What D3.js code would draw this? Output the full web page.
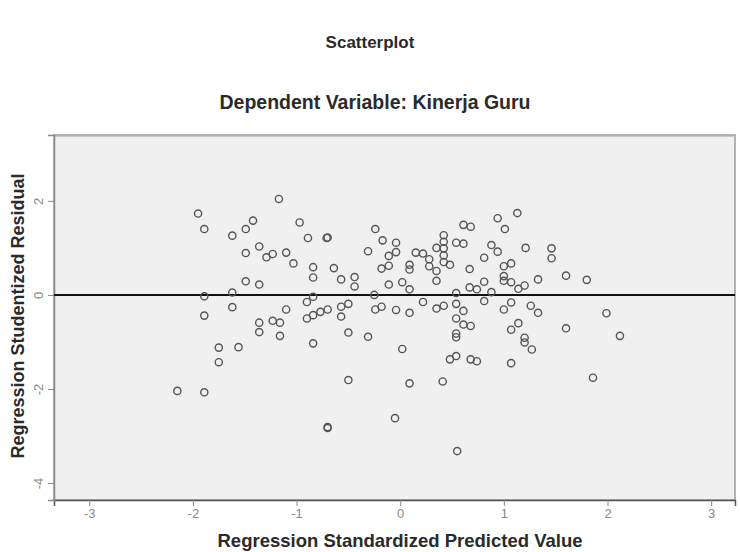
<!DOCTYPE html>
<html>
<head>
<meta charset="utf-8">
<script src="https://cdn.jsdelivr.net/npm/d3@7"></script>
<style>
  body { margin: 0; background: #fff; }
  text { font-family: "Liberation Sans", Arial, sans-serif; }
</style>
</head>
<body>
<div id="chart"></div>
<script>

// data
const predicted = [
  -1.95,-1.89,-1.62,-1.49,-1.42,-1.17,-0.97,-0.89,-0.70,-0.71,
  -1.36,-1.49,-1.29,-1.23,-1.10,-1.03,-0.84,-0.84,-0.64,-1.49,
  -1.36,-1.89,-1.62,-0.57,-0.44,-0.44,-1.62,-1.89,-1.10,-1.36,
  -1.36,-1.23,-1.16,-1.16,-1.75,-1.56,-1.75,-2.15,-1.89,-0.84,
  -0.90,-0.90,-0.84,-0.77,-0.70,-0.84,-0.57,-0.50,-0.57,-0.50,
  -0.31,-0.50,-0.70,-0.70,-0.24,-0.17,-0.31,-0.04,-0.04,-0.11,
  -0.11,-0.18,-0.11,0.02,0.09,0.09,0.09,0.15,0.22,0.28,
  0.28,0.35,0.42,0.42,0.42,0.42,0.42,0.35,0.35,0.48,
  0.54,0.61,0.61,0.68,0.67,0.67,0.81,0.88,0.94,1.01,
  0.94,1.00,1.07,1.00,1.00,1.07,1.13,1.21,1.20,1.14,
  0.81,0.74,0.88,0.54,-0.25,1.46,1.46,1.33,1.60,1.80,
  -0.24,-0.18,-0.04,0.09,0.22,0.35,0.42,0.54,0.54,0.61,
  0.54,0.54,0.61,0.68,0.48,0.54,0.68,0.74,0.81,1.00,
  1.07,1.07,1.14,1.07,1.20,1.20,1.27,1.26,1.33,1.60,
  1.99,2.12,1.86,0.02,0.09,0.41,-0.05,0.55
];
const residual = [
  1.73,1.40,1.26,1.40,1.58,2.04,1.54,1.21,1.22,1.21,
  1.03,0.89,0.80,0.87,0.90,0.67,0.59,0.37,0.57,0.29,
  0.22,-0.03,0.05,0.33,0.38,0.18,-0.26,-0.44,-0.31,-0.59,
  -0.79,-0.55,-0.59,-0.87,-1.12,-1.11,-1.43,-2.04,-2.07,-0.04,
  -0.15,-0.50,-0.43,-0.36,-0.31,-1.03,-0.25,-0.19,-0.46,-0.80,
  -0.89,-1.81,-2.81,-2.83,1.40,1.16,0.93,1.11,0.91,0.83,
  0.62,0.56,0.22,0.27,0.64,0.54,0.12,0.90,0.88,0.76,
  0.61,1.00,1.27,1.13,0.99,0.84,0.70,0.51,0.30,0.64,
  1.11,1.09,1.49,1.45,0.55,0.16,0.79,1.06,1.63,1.40,
  0.92,0.61,0.67,0.40,0.30,0.27,1.74,1.00,0.20,0.13,
  0.28,0.12,0.06,0.04,0.00,0.99,0.78,0.33,0.41,0.32,
  -0.31,-0.25,-0.32,-0.38,-0.15,-0.29,-0.23,-0.19,-0.50,-0.34,
  -0.82,-0.90,-0.63,-0.66,-1.37,-1.30,-1.37,-1.41,-0.13,-0.31,
  -0.16,-0.74,-0.60,-1.45,-0.91,-1.01,-1.16,-0.23,-0.38,-0.71,
  -0.39,-0.87,-1.76,-1.15,-1.88,-1.84,-2.62,-3.32
];
const xTicks = [-3,-2,-1,0,1,2,3];
const yTicks = [2,0,-2,-4];
const xDomain = [-3.34, 3.23];
const yDomain = [-4.36, 3.40];
const refLine = 0;

const data = predicted.map((p, i) => ({pred: p, resid: residual[i]}));

let margin = {top:135, right:5, bottom:52, left:54};
let width = 740 - margin.left - margin.right;
let height = 552 - margin.top - margin.bottom;

const svg = d3.select('#chart')
    .append('svg')
    .attr('width', 740)
    .attr('height', 552);

// titles
svg.append('text')
    .attr('x', 370).attr('y', 48)
    .attr('text-anchor', 'middle')
    .attr('font-size', '17px').attr('font-weight', 'bold')
    .attr('fill', '#2a2a2a')
    .text('Scatterplot');

svg.append('text')
    .attr('x', 375).attr('y', 109)
    .attr('text-anchor', 'middle')
    .attr('font-size', '19.5px').attr('font-weight', 'bold')
    .attr('fill', '#2a2a2a')
    .text('Dependent Variable: Kinerja Guru');

const g = svg.append('g')
    .attr('transform', `translate(${margin.left},${margin.top})`);

var x = d3.scaleLinear().domain(xDomain).range([0, width]);
var y = d3.scaleLinear().domain(yDomain).range([height, 0]);

// plot background + frame
g.append('rect')
    .attr('width', width).attr('height', height)
    .attr('fill', '#f0f0f0')
    .attr('stroke', '#9a9a9a').attr('stroke-width', 1.5);

g.append('line')
    .attr('x1', 0).attr('x2', width)
    .attr('y1', 1.5).attr('y2', 1.5)
    .attr('stroke', '#c8c8c8');

// axes
const xAxis = d3.axisBottom(x).tickValues(xTicks).tickFormat(d => String(d)).tickSize(6).tickPadding(3);
const yAxis = d3.axisLeft(y).tickValues(yTicks).tickFormat(d => String(d)).tickSize(6).tickPadding(3);

g.append('g')
    .attr('class', 'x axis')
    .attr('transform', `translate(0,${height})`)
    .call(xAxis)
    .call(a => a.select('.domain').attr('stroke', '#555').attr('stroke-width', 1.5))
    .call(a => a.selectAll('.tick line').attr('stroke', '#888'))
    .selectAll('text')
    .style('font-size', '13px')
    .attr('fill', '#888');

g.append('g')
    .attr('class', 'y axis')
    .call(yAxis)
    .call(a => a.select('.domain').attr('stroke', '#888').attr('stroke-width', 1.5))
    .call(a => a.selectAll('.tick line').attr('stroke', '#888'))
    .selectAll('text')
    .style('font-size', '13px')
    .attr('fill', '#888')
    .attr('text-anchor', 'middle')
    .attr('dy', '0')
    .attr('transform', 'translate(-11,0) rotate(-90)')
    .attr('x', 0);

// reference line
g.append('line')
    .attr('x1', 0).attr('x2', width)
    .attr('y1', y(refLine)).attr('y2', y(refLine))
    .attr('stroke', '#111').attr('stroke-width', 2);

// points
g.selectAll('.dot')
    .data(data)
    .enter().append('circle')
    .attr('class', 'dot')
    .attr('cx', d => x(d.pred))
    .attr('cy', d => y(d.resid))
    .attr('r', 3.6)
    .attr('fill', 'none')
    .attr('stroke', '#555')
    .attr('stroke-width', 1.4);

// axis titles
svg.append('text')
    .attr('x', 400).attr('y', 547)
    .attr('text-anchor', 'middle')
    .attr('font-size', '18.5px').attr('font-weight', 'bold')
    .attr('fill', '#2a2a2a')
    .text('Regression Standardized Predicted Value');

svg.append('text')
    .attr('transform', 'translate(24,316) rotate(-90)')
    .attr('text-anchor', 'middle')
    .attr('font-size', '18px').attr('font-weight', 'bold')
    .attr('fill', '#2a2a2a')
    .text('Regression Studentized Residual');

</script>
</body>
</html>
